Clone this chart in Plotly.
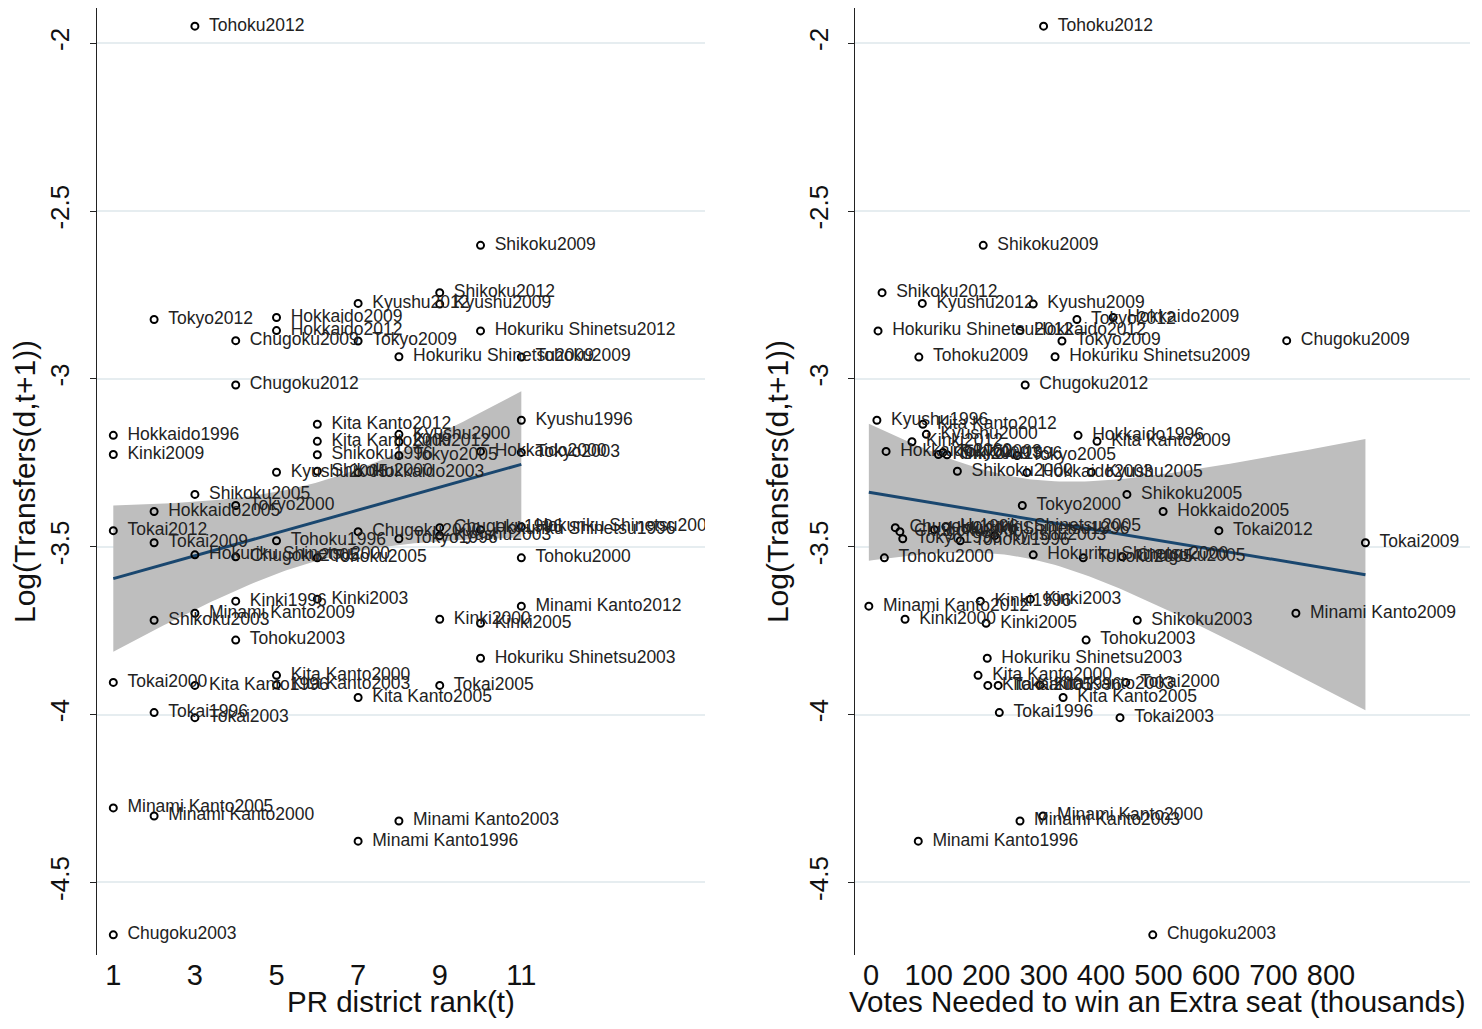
import numpy as np
import plotly.graph_objects as go

# ---------------- data ----------------
labels = [
    "Hokkaido1996", "Hokkaido2000", "Hokkaido2003", "Hokkaido2005", "Hokkaido2009", "Hokkaido2012",
    "Tohoku1996", "Tohoku2000", "Tohoku2003", "Tohoku2005", "Tohoku2009", "Tohoku2012",
    "Kita Kanto1996", "Kita Kanto2000", "Kita Kanto2003", "Kita Kanto2005", "Kita Kanto2009", "Kita Kanto2012",
    "Minami Kanto1996", "Minami Kanto2000", "Minami Kanto2003", "Minami Kanto2005", "Minami Kanto2009", "Minami Kanto2012",
    "Tokyo1996", "Tokyo2000", "Tokyo2003", "Tokyo2005", "Tokyo2009", "Tokyo2012",
    "Hokuriku Shinetsu1996", "Hokuriku Shinetsu2000", "Hokuriku Shinetsu2003", "Hokuriku Shinetsu2005", "Hokuriku Shinetsu2009", "Hokuriku Shinetsu2012",
    "Tokai1996", "Tokai2000", "Tokai2003", "Tokai2005", "Tokai2009", "Tokai2012",
    "Kinki1996", "Kinki2000", "Kinki2003", "Kinki2005", "Kinki2009", "Kinki2012",
    "Chugoku1996", "Chugoku2000", "Chugoku2003", "Chugoku2005", "Chugoku2009", "Chugoku2012",
    "Shikoku1996", "Shikoku2000", "Shikoku2003", "Shikoku2005", "Shikoku2009", "Shikoku2012",
    "Kyushu1996", "Kyushu2000", "Kyushu2003", "Kyushu2005", "Kyushu2009", "Kyushu2012",
]

log_transfers = [
    -3.168, -3.216, -3.279, -3.395, -2.817, -2.856,
    -3.482, -3.533, -3.778, -3.533, -2.935, -1.949,
    -3.913, -3.883, -3.912, -3.949, -3.186, -3.135,
    -4.377, -4.302, -4.317, -4.278, -3.698, -3.677,
    -3.476, -3.377, -3.219, -3.228, -2.887, -2.823,
    -3.449, -3.524, -3.832, -3.440, -2.934, -2.857,
    -3.994, -3.904, -4.009, -3.913, -3.488, -3.452,
    -3.662, -3.716, -3.656, -3.728, -3.225, -3.187,
    -3.443, -3.455, -4.656, -3.530, -2.886, -3.018,
    -3.226, -3.275, -3.719, -3.344, -2.602, -2.743,
    -3.123, -3.165, -3.467, -3.278, -2.777, -2.775,
]

pr_rank = [
    1, 10, 7, 2, 5, 5,
    5, 11, 4, 6, 11, 3,
    3, 5, 5, 7, 6, 6,
    7, 2, 8, 1, 3, 11,
    8, 4, 11, 8, 7, 2,
    10, 3, 10, 11, 8, 10,
    2, 1, 3, 9, 2, 1,
    4, 9, 6, 10, 1, 8,
    9, 7, 1, 4, 4, 4,
    6, 6, 2, 3, 10, 9,
    11, 8, 9, 5, 9, 7,
]

votes_needed = [
    360, 26, 271, 508, 421, 259,
    155, 23, 374, 369, 83, 300,
    203, 186, 294, 334, 393, 90,
    82, 299, 259, None, 739, -4,
    55, 263, 125, 254, 332, 358,
    110, 282, 202, 130, 320, 12,
    223, 443, 433, 221, 860, 605,
    190, 59, 277, 200, 117, 71,
    42, 50, 490, 437, 723, 268,
    132, 150, 463, 445, 195, 19,
    10, 96, 215, 383, 282, 89,
]

y_tick_vals = [-2, -2.5, -3, -3.5, -4, -4.5]
y_tick_text = ["-2", "-2.5", "-3", "-3.5", "-4", "-4.5"]
rank_ticks = [1, 3, 5, 7, 9, 11]
votes_ticks = [0, 100, 200, 300, 400, 500, 600, 700, 800]

x_titles = ["PR district rank(t)", "Votes Needed to win an Extra seat (thousands)"]
y_title = "Log(Transfers(d,t+1))"


def fit_ci(x, y, t=1.998):
    x = np.array([np.nan if v is None else v for v in x], float)
    y = np.array(y, float)
    m = ~np.isnan(x)
    x, y = x[m], y[m]
    n = len(x)
    b, a = np.polyfit(x, y, 1)
    resid = y - (a + b * x)
    s = np.sqrt(np.sum(resid ** 2) / (n - 2))
    xbar = x.mean()
    sxx = np.sum((x - xbar) ** 2)
    xs = np.linspace(x.min(), x.max(), 100)
    yh = a + b * xs
    se = s * np.sqrt(1.0 / n + (xs - xbar) ** 2 / sxx)
    return xs, yh, yh - t * se, yh + t * se


FONT = "Liberation Sans, Arial, sans-serif"
LINE_C = "#1a476f"
CI_C = "#bebebe"
GRID_C = "#e6edf0"

point_text = ["\u2002" + s for s in labels]

fig = go.Figure()

for xdata, xa, ya in [(pr_rank, "x", "y"), (votes_needed, "x2", "y2")]:
    xs, yh, lo, hi = fit_ci(xdata, log_transfers)
    fig.add_trace(go.Scatter(
        x=np.concatenate([xs, xs[::-1]]), y=np.concatenate([hi, lo[::-1]]),
        fill="toself", fillcolor=CI_C, line=dict(width=0), mode="lines",
        hoverinfo="skip", showlegend=False, xaxis=xa, yaxis=ya))
    fig.add_trace(go.Scatter(
        x=xs, y=yh, mode="lines", line=dict(color=LINE_C, width=3),
        showlegend=False, xaxis=xa, yaxis=ya))
    fig.add_trace(go.Scatter(
        x=xdata, y=log_transfers, text=point_text, mode="markers+text",
        textposition="middle right",
        textfont=dict(family=FONT, size=17.5, color="#222222"),
        marker=dict(symbol="circle-open", size=7, color="black",
                    line=dict(width=2, color="black")),
        showlegend=False, xaxis=xa, yaxis=ya))

yaxis_common = dict(
    range=[-4.716, -1.895], tickvals=y_tick_vals, ticktext=y_tick_text,
    tickangle=-90, tickfont=dict(family=FONT, size=26, color="#111"),
    showgrid=True, gridcolor=GRID_C, gridwidth=1.5, zeroline=False,
    showline=True, linecolor="#222", linewidth=1.2,
    ticks="outside", ticklen=6, tickcolor="#222", ticklabelstandoff=10,
    automargin=False,
    title=dict(text=y_title, standoff=6,
               font=dict(family=FONT, size=30, color="#111")),
    domain=[0.0652, 1.0],
)
xaxis_common = dict(
    showgrid=False, zeroline=False, showline=False,
    ticks="", tickfont=dict(family=FONT, size=29, color="#111"),
    automargin=False,
)

fig.update_layout(
    width=1466, height=1013,
    margin=dict(l=0, r=0, t=0, b=0),
    paper_bgcolor="white", plot_bgcolor="white",
    xaxis=dict(**xaxis_common, domain=[0.0607, 0.4754], range=[0.6, 15.5],
               tickvals=rank_ticks, anchor="y"),
    yaxis=dict(**yaxis_common, anchor="x"),
    xaxis2=dict(**xaxis_common, domain=[0.5778, 0.9973], range=[-28, 1042],
                tickvals=votes_ticks, anchor="y2"),
    yaxis2=dict(**yaxis_common, anchor="x2"),
)

for xt, xc in zip(x_titles, [0.268, 0.7838]):
    fig.add_annotation(text=xt, xref="paper", yref="paper", x=xc, y=0.0005,
                       xanchor="center", yanchor="bottom", showarrow=False,
                       font=dict(family=FONT, size=29.5, color="#111"))

fig.write_html("out.html")
